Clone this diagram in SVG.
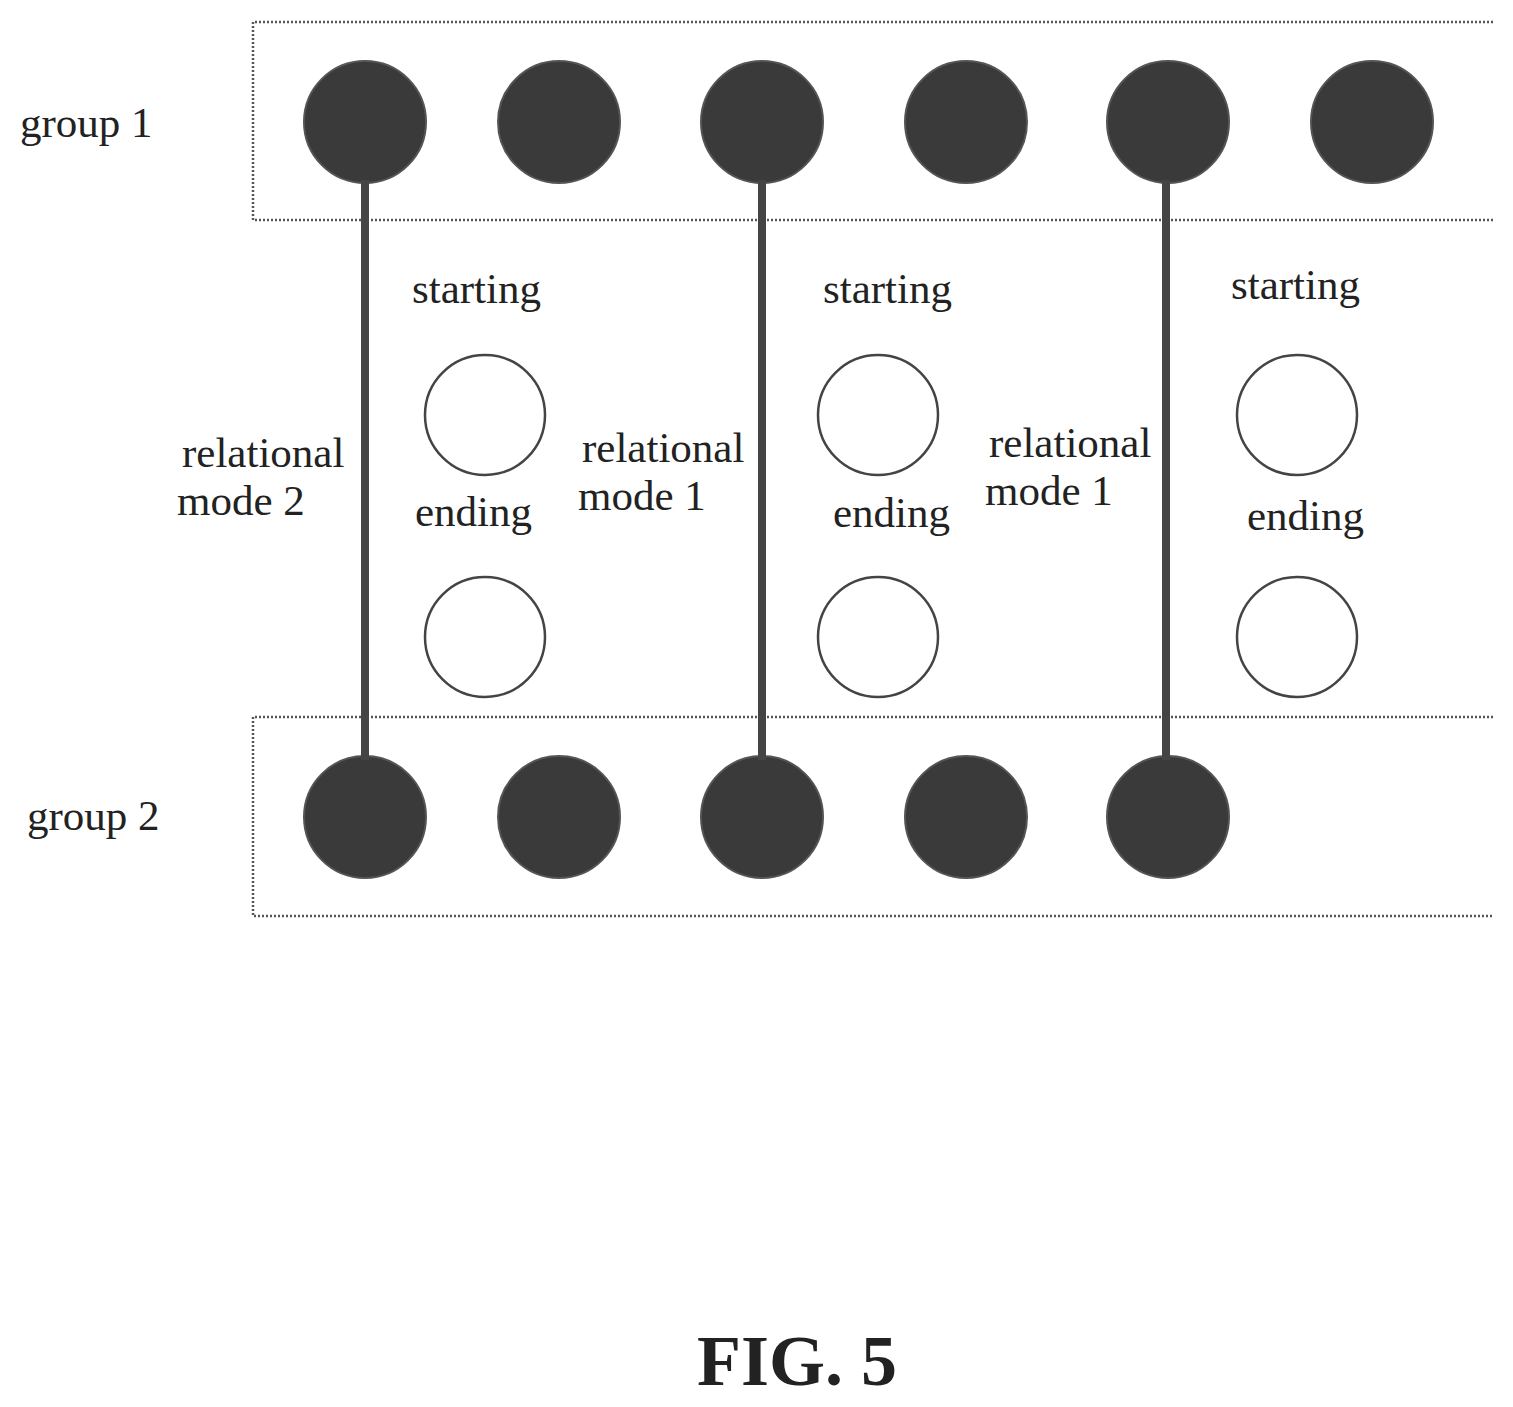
<svg xmlns="http://www.w3.org/2000/svg" width="1513" height="1407" viewBox="0 0 1513 1407">
<style>
.box{fill:none;stroke:#555;stroke-width:2.5;stroke-dasharray:2 2}
.dark{fill:#3a3a3a;stroke:#555;stroke-width:2}
.open{fill:#fff;stroke:#444;stroke-width:2.5}
.lnk{stroke:#444;stroke-width:8}
text{font-family:"Liberation Serif",serif;font-size:43px;fill:#222}
</style>
<rect width="1513" height="1407" fill="#fff"/>
<g id="group1">
<path class="box" d="M1493 22H253V220H1493"/>
<circle class="dark" cx="365" cy="122" r="61"/><circle class="dark" cx="559" cy="122" r="61"/><circle class="dark" cx="762" cy="122" r="61"/><circle class="dark" cx="966" cy="122" r="61"/><circle class="dark" cx="1168" cy="122" r="61"/><circle class="dark" cx="1372" cy="122" r="61"/>
<text x="20" y="137">group 1</text>
</g>
<g id="group2">
<path class="box" d="M1493 717H253V916H1493"/>
<circle class="dark" cx="365" cy="817" r="61"/><circle class="dark" cx="559" cy="817" r="61"/><circle class="dark" cx="762" cy="817" r="61"/><circle class="dark" cx="966" cy="817" r="61"/><circle class="dark" cx="1168" cy="817" r="61"/>
<text x="27" y="830">group 2</text>
</g>
<g id="connectors">
<line class="lnk" x1="365" y1="180" x2="365" y2="760"/>
<line class="lnk" x1="762" y1="180" x2="762" y2="760"/>
<line class="lnk" x1="1166" y1="180" x2="1166" y2="760"/>
</g>
<g id="pair1">
<circle class="open" cx="485" cy="415" r="60"/><circle class="open" cx="485" cy="637" r="60"/>
<text x="412" y="303">starting</text><text x="415" y="526">ending</text>
<text x="182" y="467">relational</text><text x="177" y="515">mode 2</text>
</g>
<g id="pair2">
<circle class="open" cx="878" cy="415" r="60"/><circle class="open" cx="878" cy="637" r="60"/>
<text x="823" y="303">starting</text><text x="833" y="527">ending</text>
<text x="582" y="462">relational</text><text x="578" y="510">mode 1</text>
</g>
<g id="pair3">
<circle class="open" cx="1297" cy="415" r="60"/><circle class="open" cx="1297" cy="637" r="60"/>
<text x="1231" y="299">starting</text><text x="1247" y="530">ending</text>
<text x="989" y="457">relational</text><text x="985" y="505">mode 1</text>
</g>
<text x="797" y="1385" text-anchor="middle" style="font-size:72px;font-weight:bold">FIG. 5</text>
</svg>
